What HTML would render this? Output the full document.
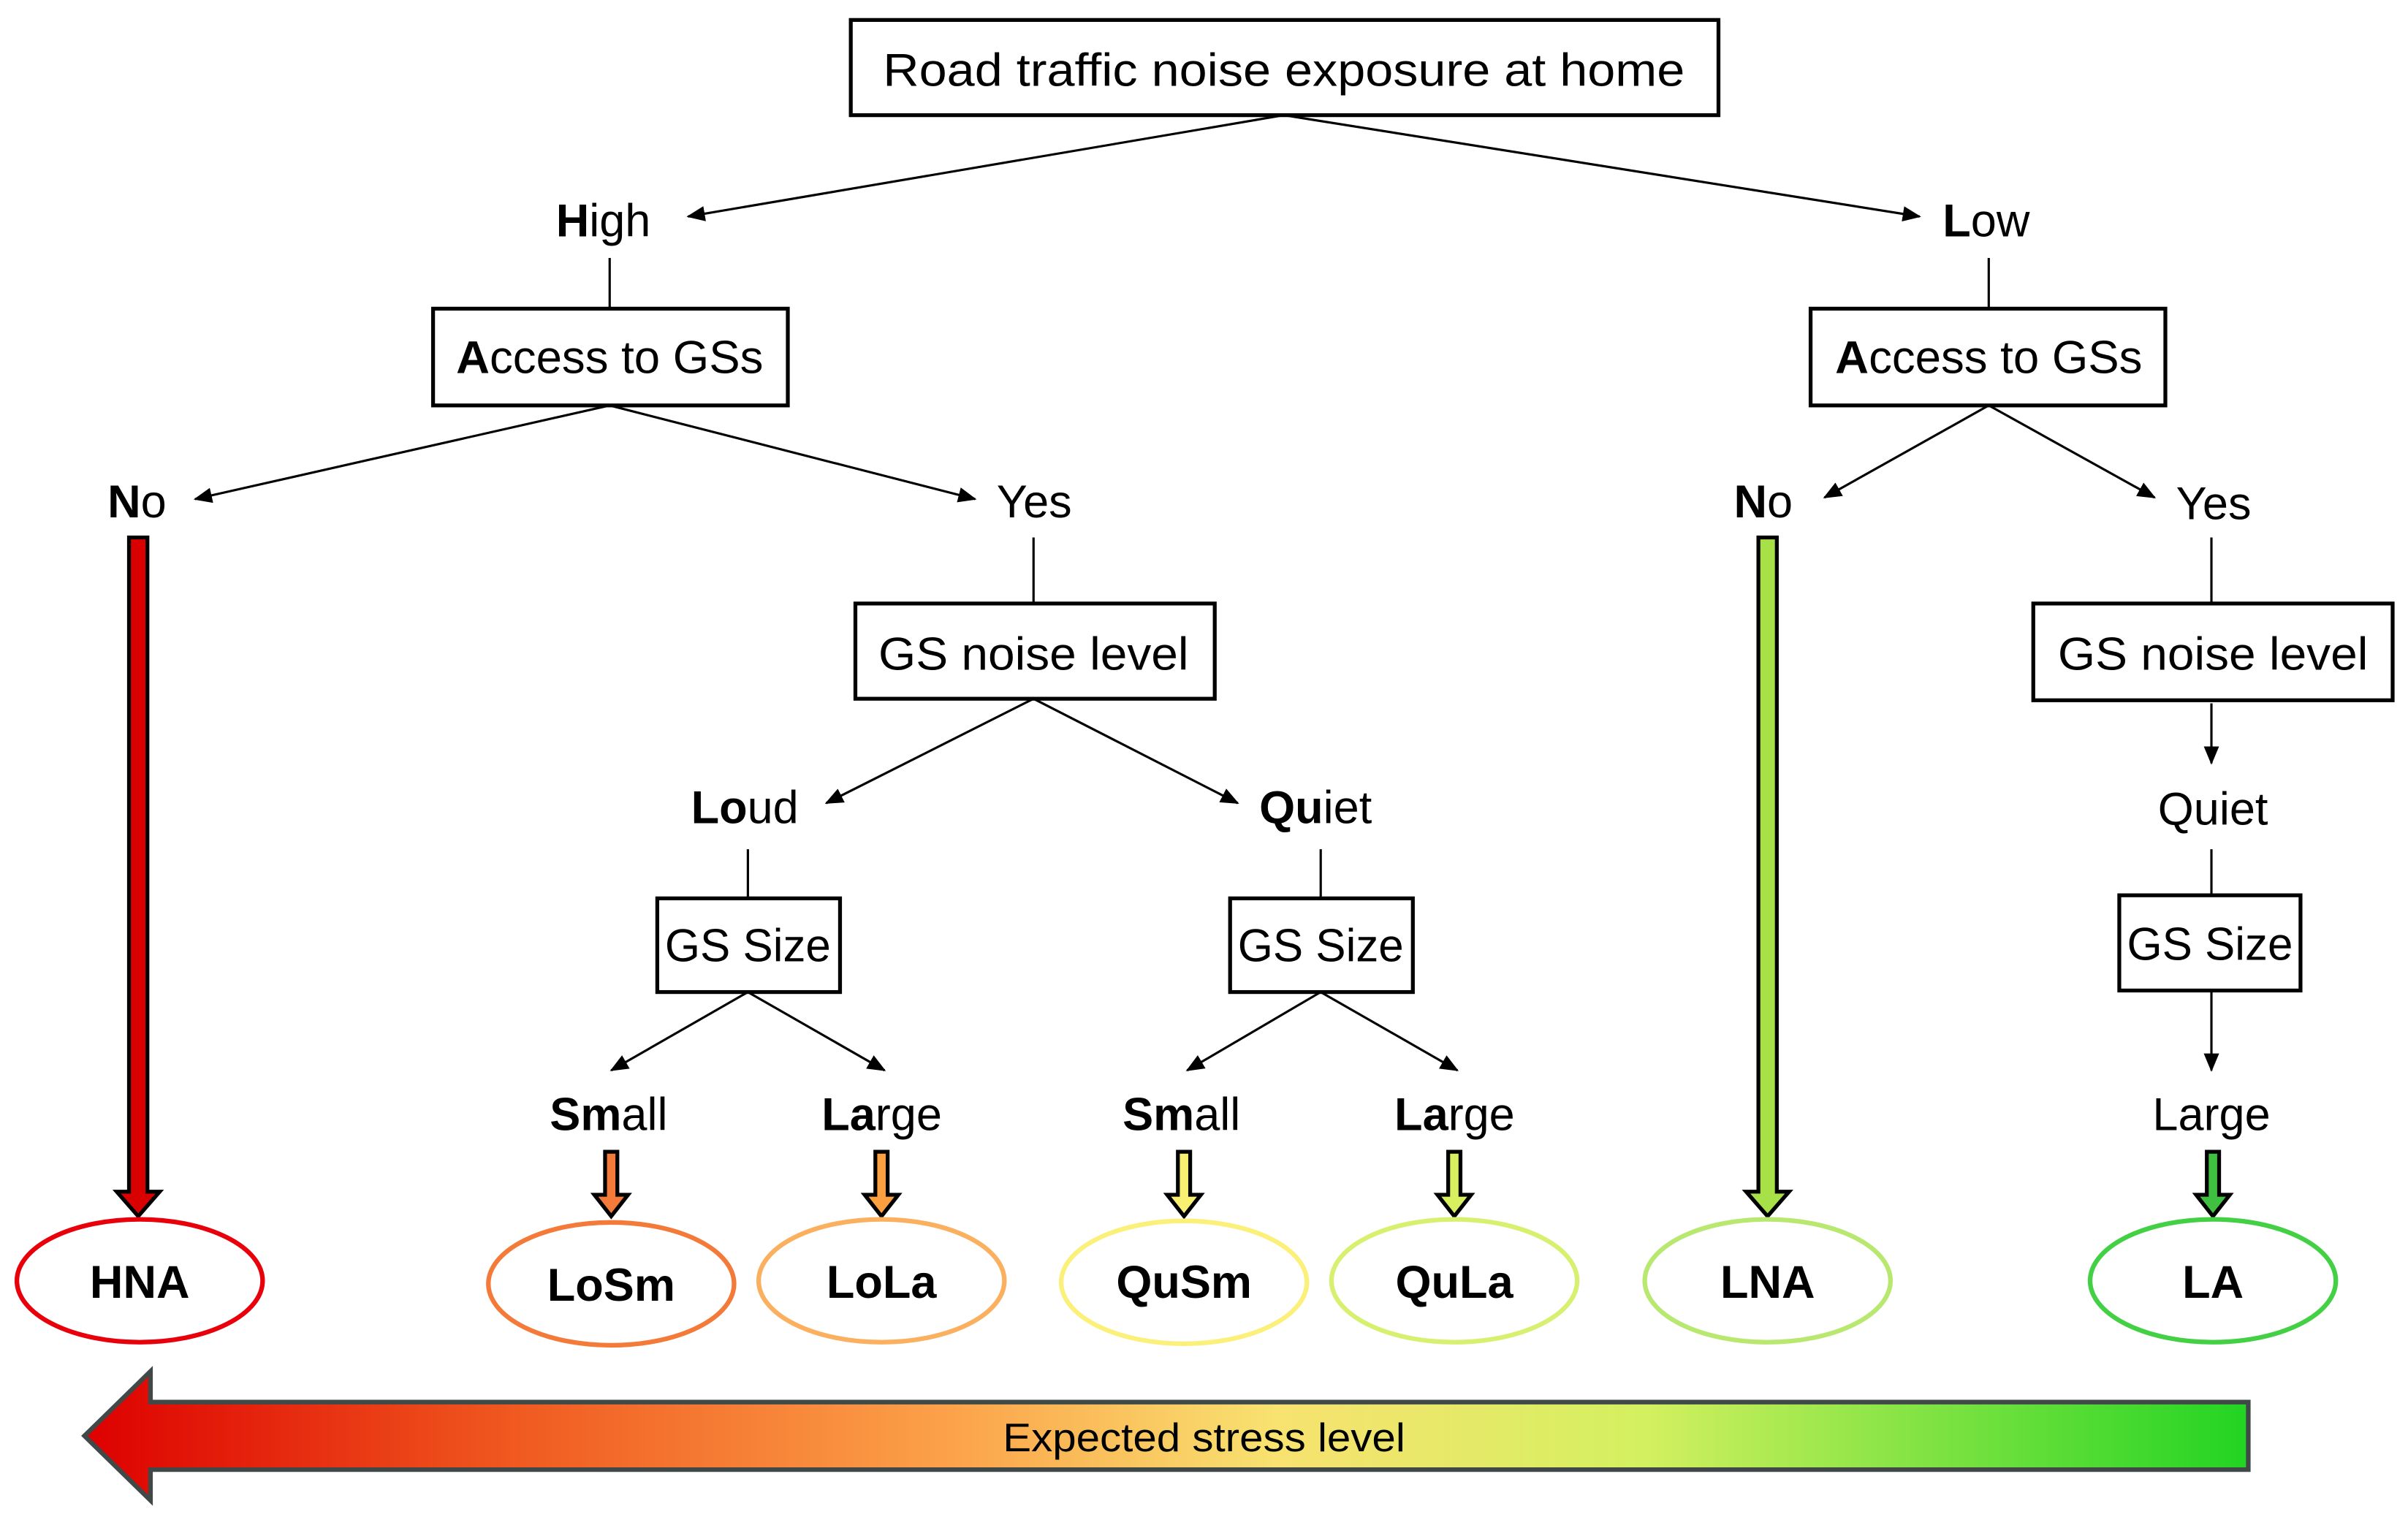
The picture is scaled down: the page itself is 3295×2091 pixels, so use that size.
<!DOCTYPE html>
<html><head><meta charset="utf-8"><style>html,body{margin:0;padding:0;background:#fff}svg{display:block}</style></head>
<body>
<svg width="3295" height="2091" viewBox="0 0 1568 995" preserveAspectRatio="none" xmlns="http://www.w3.org/2000/svg" font-family="Liberation Sans, DejaVu Sans, sans-serif">
<defs>
<marker id="a" markerWidth="12" markerHeight="10" refX="11" refY="5" orient="auto" markerUnits="userSpaceOnUse"><path d="M0,0 L12,5 L0,10 z" fill="#000"/></marker>
<linearGradient id="g" x1="0" x2="1" y1="0" y2="0">
<stop offset="0" stop-color="#dd0000"/><stop offset="0.2" stop-color="#f05a20"/><stop offset="0.4" stop-color="#fca24a"/><stop offset="0.55" stop-color="#f8e270"/><stop offset="0.72" stop-color="#d4f060"/><stop offset="1" stop-color="#22d422"/>
</linearGradient>
</defs>
<g stroke="#000" stroke-width="1.5" fill="none">
<line x1="836" y1="75" x2="448" y2="141" marker-end="url(#a)"/>
<line x1="836" y1="75" x2="1250" y2="141" marker-end="url(#a)"/>
<line x1="397" y1="168" x2="397" y2="201"/>
<line x1="1295" y1="168" x2="1295" y2="201"/>
<line x1="397" y1="264" x2="127" y2="325" marker-end="url(#a)"/>
<line x1="397" y1="264" x2="635" y2="325" marker-end="url(#a)"/>
<line x1="1295" y1="264" x2="1188" y2="324" marker-end="url(#a)"/>
<line x1="1295" y1="264" x2="1403" y2="324" marker-end="url(#a)"/>
<line x1="673" y1="350" x2="673" y2="393"/>
<line x1="1440" y1="350" x2="1440" y2="393"/>
<line x1="673" y1="455" x2="538" y2="523" marker-end="url(#a)"/>
<line x1="673" y1="455" x2="806" y2="523" marker-end="url(#a)"/>
<line x1="1440" y1="458" x2="1440" y2="497" marker-end="url(#a)"/>
<line x1="487" y1="553" x2="487" y2="585"/>
<line x1="860" y1="553" x2="860" y2="585"/>
<line x1="1440" y1="553" x2="1440" y2="583"/>
<line x1="487" y1="646" x2="398" y2="697" marker-end="url(#a)"/>
<line x1="487" y1="646" x2="576" y2="697" marker-end="url(#a)"/>
<line x1="860" y1="646" x2="773" y2="697" marker-end="url(#a)"/>
<line x1="860" y1="646" x2="949" y2="697" marker-end="url(#a)"/>
<line x1="1440" y1="645" x2="1440" y2="697" marker-end="url(#a)"/>
</g>
<g stroke="#000" stroke-width="2.5" fill="#fff">
<rect x="554" y="13" width="565" height="62"/>
<rect x="282" y="201" width="231" height="63"/>
<rect x="1179" y="201" width="231" height="63"/>
<rect x="557" y="393" width="234" height="62"/>
<rect x="1324" y="393" width="234" height="63"/>
<rect x="428" y="585" width="119" height="61"/>
<rect x="801" y="585" width="119" height="61"/>
<rect x="1380" y="583" width="118" height="62"/>
</g>
<g font-size="30" fill="#000">
<text x="836" y="56" text-anchor="middle" textLength="522" lengthAdjust="spacingAndGlyphs">Road traffic noise exposure at home</text>
<text x="397" y="243" text-anchor="middle" textLength="200" lengthAdjust="spacingAndGlyphs"><tspan font-weight="bold">A</tspan>ccess to GSs</text>
<text x="1295" y="243" text-anchor="middle" textLength="200" lengthAdjust="spacingAndGlyphs"><tspan font-weight="bold">A</tspan>ccess to GSs</text>
<text x="673" y="436" text-anchor="middle" textLength="202" lengthAdjust="spacingAndGlyphs">GS noise level</text>
<text x="1441" y="436" text-anchor="middle" textLength="202" lengthAdjust="spacingAndGlyphs">GS noise level</text>
<text x="487" y="626" text-anchor="middle" textLength="108" lengthAdjust="spacingAndGlyphs">GS Size</text>
<text x="860" y="626" text-anchor="middle" textLength="108" lengthAdjust="spacingAndGlyphs">GS Size</text>
<text x="1439" y="625" text-anchor="middle" textLength="108" lengthAdjust="spacingAndGlyphs">GS Size</text>
<text x="362" y="154"><tspan font-weight="bold">H</tspan>igh</text>
<text x="1265" y="154"><tspan font-weight="bold">L</tspan>ow</text>
<text x="70" y="337"><tspan font-weight="bold">N</tspan>o</text>
<text x="649" y="337">Yes</text>
<text x="1129" y="337"><tspan font-weight="bold">N</tspan>o</text>
<text x="1417" y="338">Yes</text>
<text x="450" y="536"><tspan font-weight="bold">Lo</tspan>ud</text>
<text x="820" y="536"><tspan font-weight="bold">Qu</tspan>iet</text>
<text x="1441" y="537" text-anchor="middle">Quiet</text>
<text x="358" y="736"><tspan font-weight="bold">Sm</tspan>all</text>
<text x="535" y="736"><tspan font-weight="bold">La</tspan>rge</text>
<text x="731" y="736"><tspan font-weight="bold">Sm</tspan>all</text>
<text x="908" y="736"><tspan font-weight="bold">La</tspan>rge</text>
<text x="1440" y="736" text-anchor="middle">Large</text>
</g>
<g stroke="#000" stroke-width="2.5">
<path d="M84,350 h12 v426 h8 l-14,16 l-14,-16 h8 z" fill="#d80000"/>
<path d="M1145,350 h12 v426 h8 l-14,16 l-14,-16 h8 z" fill="#a8e048"/>
<path d="M394,750 h8 v28 h7 l-11,14 l-11,-14 h7 z" fill="#f47a3a"/>
<path d="M570,750 h8 v28 h7 l-11,14 l-11,-14 h7 z" fill="#fba040"/>
<path d="M767,750 h8 v28 h7 l-11,14 l-11,-14 h7 z" fill="#f8f070"/>
<path d="M943,750 h8 v28 h7 l-11,14 l-11,-14 h7 z" fill="#d8f060"/>
<path d="M1437,750 h8 v28 h7 l-11,14 l-11,-14 h7 z" fill="#40c040"/>
</g>
<g stroke-width="3" fill="#fff">
<ellipse cx="91" cy="834" rx="80" ry="40" stroke="#e8000b"/>
<ellipse cx="398" cy="836" rx="80" ry="40" stroke="#f47a3a"/>
<ellipse cx="574" cy="834" rx="80" ry="40" stroke="#fbb060"/>
<ellipse cx="771" cy="835" rx="80" ry="40" stroke="#faf07a"/>
<ellipse cx="947" cy="834" rx="80" ry="40" stroke="#d8f070"/>
<ellipse cx="1151" cy="834" rx="80" ry="40" stroke="#b8e870"/>
<ellipse cx="1441" cy="834" rx="80" ry="40" stroke="#44d044"/>
</g>
<g font-size="30" font-weight="bold" text-anchor="middle" fill="#000">
<text x="91" y="845">HNA</text>
<text x="398" y="847">LoSm</text>
<text x="574" y="845">LoLa</text>
<text x="771" y="845">QuSm</text>
<text x="947" y="845">QuLa</text>
<text x="1151" y="845">LNA</text>
<text x="1441" y="845">LA</text>
</g>
<path d="M55,935 L98,893 L98,913 L1464,913 L1464,957 L98,957 L98,977 Z" fill="url(#g)" stroke="#404848" stroke-width="3"/>
<text x="784" y="945" font-size="26" text-anchor="middle" fill="#000" textLength="262" lengthAdjust="spacingAndGlyphs">Expected stress level</text>
</svg>
</body></html>
